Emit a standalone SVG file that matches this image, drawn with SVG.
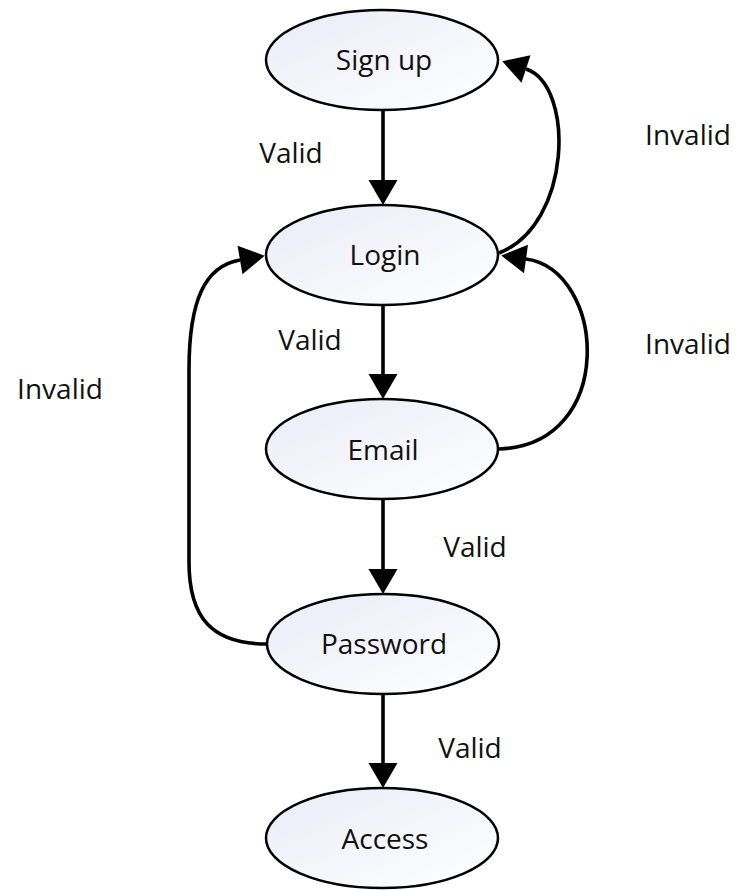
<svg xmlns="http://www.w3.org/2000/svg" width="739" height="890" viewBox="0 0 739 890">
<style>
.node ellipse{fill:url(#g);stroke:#000;stroke-width:2.5}
text{font-family:"Open Sans","Liberation Sans",sans-serif;font-size:28px;fill:#111;text-anchor:middle}
.edge{fill:none;stroke:#000;stroke-width:3.6;marker-end:url(#ah)}
</style>
<defs>
<linearGradient id="g" x1="0" y1="0" x2="1" y2="1">
<stop offset="0" stop-color="#e9ecf7"/>
<stop offset="1" stop-color="#ffffff"/>
</linearGradient>
<marker id="ah" markerUnits="userSpaceOnUse" markerWidth="27" markerHeight="31" refX="0" refY="14.5" orient="auto" overflow="visible">
<path d="M0,0 L25,14.5 L0,29 Z" fill="#000"/>
</marker>
</defs>
<g id="connectors">
<path class="edge" d="M383,110 L383,180"/>
<path class="edge" d="M383,305 L383,374"/>
<path class="edge" d="M383,499 L383,569"/>
<path class="edge" d="M383,694 L383,763"/>
<path class="edge" d="M499,253 C572,225 575,85 526,69"/>
<path class="edge" d="M499,449 C618,445 606,270 526,259"/>
<path class="edge" d="M267,644 C212,644 189,618 189,562 L189,370 C189,300 205,266 240,260"/>
</g>
<g id="signup" class="node"><ellipse cx="382" cy="60" rx="116" ry="50"/><text x="384" y="70">Sign up</text></g>
<g id="login" class="node"><ellipse cx="382" cy="255" rx="116" ry="50"/><text x="385" y="265">Login</text></g>
<g id="email" class="node"><ellipse cx="382" cy="449" rx="116" ry="50"/><text x="383" y="460">Email</text></g>
<g id="password" class="node"><ellipse cx="383" cy="644" rx="116" ry="50"/><text x="384" y="654">Password</text></g>
<g id="access" class="node"><ellipse cx="382" cy="838" rx="116" ry="50"/><text x="385" y="849">Access</text></g>
<g id="labels">
<text x="291" y="163">Valid</text>
<text x="688" y="145">Invalid</text>
<text x="310" y="350">Valid</text>
<text x="688" y="354">Invalid</text>
<text x="60" y="399">Invalid</text>
<text x="475" y="557">Valid</text>
<text x="470" y="758">Valid</text>
</g>
</svg>
